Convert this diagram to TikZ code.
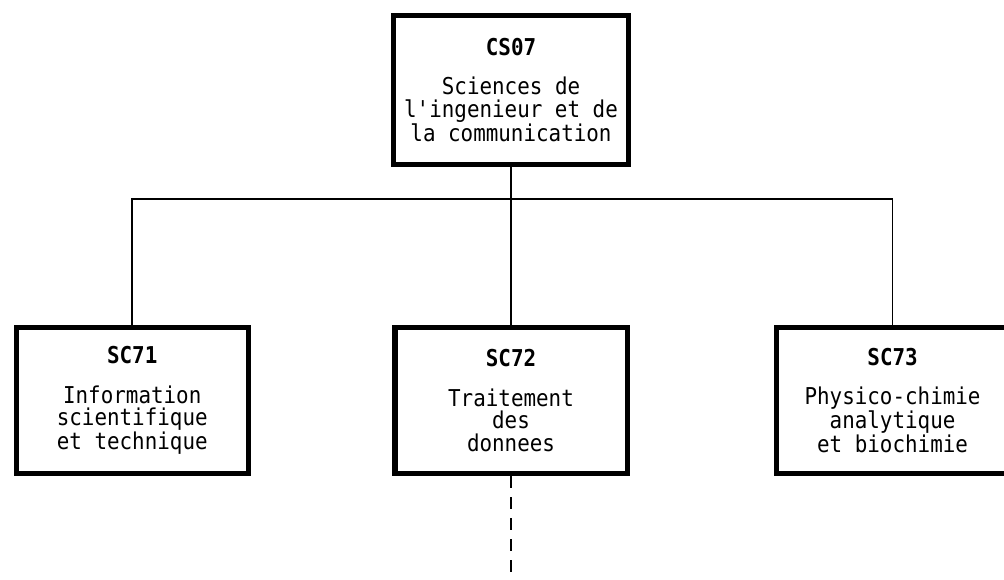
\documentclass[tikz,border=0pt]{standalone}
\usepackage{fontspec}
\setmonofont[FakeStretch=0.9]{DejaVu Sans Mono}
\usetikzlibrary{positioning}

\begin{document}
\begin{tikzpicture}[x=0.025cm,y=0.025cm,
  unit/.style={draw=black,line width=3.6pt,fill=white,minimum width=5.8cm,
    minimum height=3.65cm,inner sep=0pt,align=center,
    font=\ttfamily\fontsize{16.5}{16}\selectfont},
  topunit/.style={unit,minimum width=5.875cm,minimum height=3.725cm},
  link/.style={draw=black,line width=1.3pt},
  subflow/.style={draw=black,line width=1.1pt,dash pattern=on 8.5pt off 6.5pt}
]
\useasboundingbox (0,0) rectangle (1004,579);
\node[topunit] (cs07) at (511,489)
  {\textbf{CS07}\\[12pt]Sciences de\\l'ingenieur et de\\la communication};
\node[unit] (sc72) at (511,178.5)
  {\textbf{SC72}\\[12pt]Traitement\\des\\donnees};
\node[unit,left=3.54cm of sc72] (sc71)
  {\textbf{SC71}\\[12pt]Information\\scientifique\\et technique};
\node[unit,right=3.61cm of sc72] (sc73)
  {\textbf{SC73}\\[12pt]Physico-chimie\\analytique\\et biochimie};
\coordinate (bus) at (0,380);
\coordinate (tail) at (511,0);
\draw[link] (cs07.south) -- (sc72.north);
\draw[link] (sc71.north) -- (sc71.north |- bus) -- (sc73.north |- bus) -- (sc73.north);
\draw[subflow] (sc72.south) -- (sc72.south |- tail);
\end{tikzpicture}
\end{document}
